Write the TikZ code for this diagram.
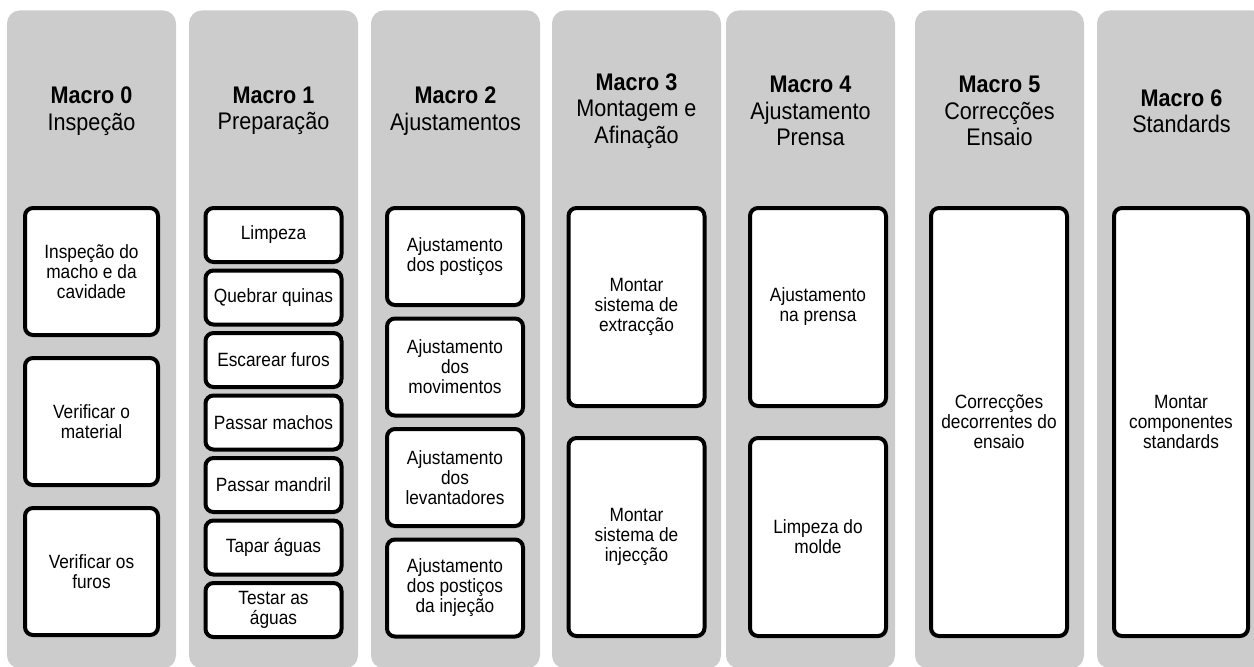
\documentclass[tikz,border=0pt]{standalone}
\usepackage{fontspec}
\setmainfont{Liberation Sans}
\newfontfamily\narrowsans{Liberation Sans}[FakeStretch=0.9]
\usepackage{tikz}
\usetikzlibrary{positioning}
\definecolor{colgray}{HTML}{CCCCCC}
\tikzstyle{macro} = [
    rectangle, fill=colgray, rounded corners=6.5pt,
    minimum width=84.5pt, minimum height=329pt, anchor=north
]
\tikzstyle{macrotitle} = [
    align=center, font=\narrowsans\fontsize{12}{13.25}\selectfont
]
\tikzstyle{task} = [
    rectangle, draw, line width=2pt, fill=white, rounded corners=4pt,
    minimum width=68pt, inner sep=1pt, align=center,
    font=\narrowsans\fontsize{9.6}{10}\selectfont % Text centered in each box
]

\begin{document}
\begin{tikzpicture}[x=0.5pt, y=-0.5pt]
        \useasboundingbox (0,0) rectangle (1254,666);
        \clip (0,0) rectangle (1254,666);

        % Gray columns, one per macro
        \node[macro] (macro0) at (91.5,10) {};
        \node[macro] (macro1) at (273.5,10) {};
        \node[macro] (macro2) at (455.5,10) {};
        \node[macro] (macro3) at (636.5,10) {};
        \node[macro] (macro4) at (810.5,10) {};
        \node[macro] (macro5) at (999.5,10) {};
        \node[macro] (macro6) at (1181.5,10) {};

        % Titles
        \node[macrotitle] (title0) at ([yshift=-50.5pt]macro0.north) {\textbf{Macro 0}\\Inspeção};
        \node[macrotitle] (title1) at ([yshift=-50.5pt]macro1.north) {\textbf{Macro 1}\\Preparação};
        \node[macrotitle] (title2) at ([yshift=-50.5pt]macro2.north) {\textbf{Macro 2}\\Ajustamentos};
        \node[macrotitle] (title3) at ([yshift=-50.5pt]macro3.north) {\textbf{Macro 3}\\Montagem e\\Afinação};
        \node[macrotitle] (title4) at ([yshift=-50.5pt]macro4.north) {\textbf{Macro 4}\\Ajustamento\\Prensa};
        \node[macrotitle] (title5) at ([yshift=-50.5pt]macro5.north) {\textbf{Macro 5}\\Correcções\\Ensaio};
        \node[macrotitle] (title6) at ([yshift=-50.5pt]macro6.north) {\textbf{Macro 6}\\Standards};

        % Macro 0 tasks
        \node[task, minimum width=66.5pt, minimum height=63.5pt, anchor=north] (inspmacho) at ([yshift=-98pt]macro0.north) {Inspeção do\\macho e da\\cavidade};
        \node[task, minimum width=66.5pt, minimum height=63.5pt] (verifmat) [below=9.5pt of inspmacho] {Verificar o\\material};
        \node[task, minimum width=66.5pt, minimum height=63.5pt] (veriffuros) [below=9.5pt of verifmat] {Verificar os\\furos};

        % Macro 1 tasks
        \node[task, minimum height=27pt, anchor=north] (limpeza) at ([yshift=-98pt]macro1.north) {Limpeza};
        \node[task, minimum height=27pt] (quinas) [below=2.25pt of limpeza] {Quebrar quinas};
        \node[task, minimum height=27pt] (escarear) [below=2.25pt of quinas] {Escarear furos};
        \node[task, minimum height=27pt] (machos) [below=2.25pt of escarear] {Passar machos};
        \node[task, minimum height=27pt] (mandril) [below=2.25pt of machos] {Passar mandril};
        \node[task, minimum height=27pt] (tapar) [below=2.25pt of mandril] {Tapar águas};
        \node[task, minimum height=27pt] (testar) [below=2.25pt of tapar] {Testar as\\águas};

        % Macro 2 tasks
        \node[task, minimum height=48.5pt, anchor=north] (posticos) at ([xshift=-0.25pt, yshift=-98pt]macro2.north) {Ajustamento\\dos postiços};
        \node[task, minimum height=48.5pt] (movimentos) [below=4.75pt of posticos] {Ajustamento\\dos\\movimentos};
        \node[task, minimum height=48.5pt] (levantadores) [below=4.75pt of movimentos] {Ajustamento\\dos\\levantadores};
        \node[task, minimum height=48.5pt] (injecao) [below=4.75pt of levantadores] {Ajustamento\\dos postiços\\da injeção};

        % Macro 3 tasks
        \node[task, minimum height=99pt, anchor=north] (extraccao) at ([yshift=-98pt]macro3.north) {Montar\\sistema de\\extracção};
        \node[task, minimum height=99pt] (injeccao) [below=14pt of extraccao] {Montar\\sistema de\\injecção};

        % Macro 4 tasks
        \node[task, minimum height=99pt, anchor=north] (prensa) at ([xshift=3.75pt, yshift=-98pt]macro4.north) {Ajustamento\\na prensa};
        \node[task, minimum height=99pt] (molde) [below=14pt of prensa] {Limpeza do\\molde};

        % Macro 5 and 6 tasks
        \node[task, minimum height=214pt, anchor=north] (correccoes) at ([xshift=-0.25pt, yshift=-98pt]macro5.north) {Correcções\\decorrentes do\\ensaio};
        \node[task, minimum width=67pt, minimum height=214pt, anchor=north] (standards) at ([xshift=-0.25pt, yshift=-98pt]macro6.north) {Montar\\componentes\\standards};

    \end{tikzpicture}
\end{document}
